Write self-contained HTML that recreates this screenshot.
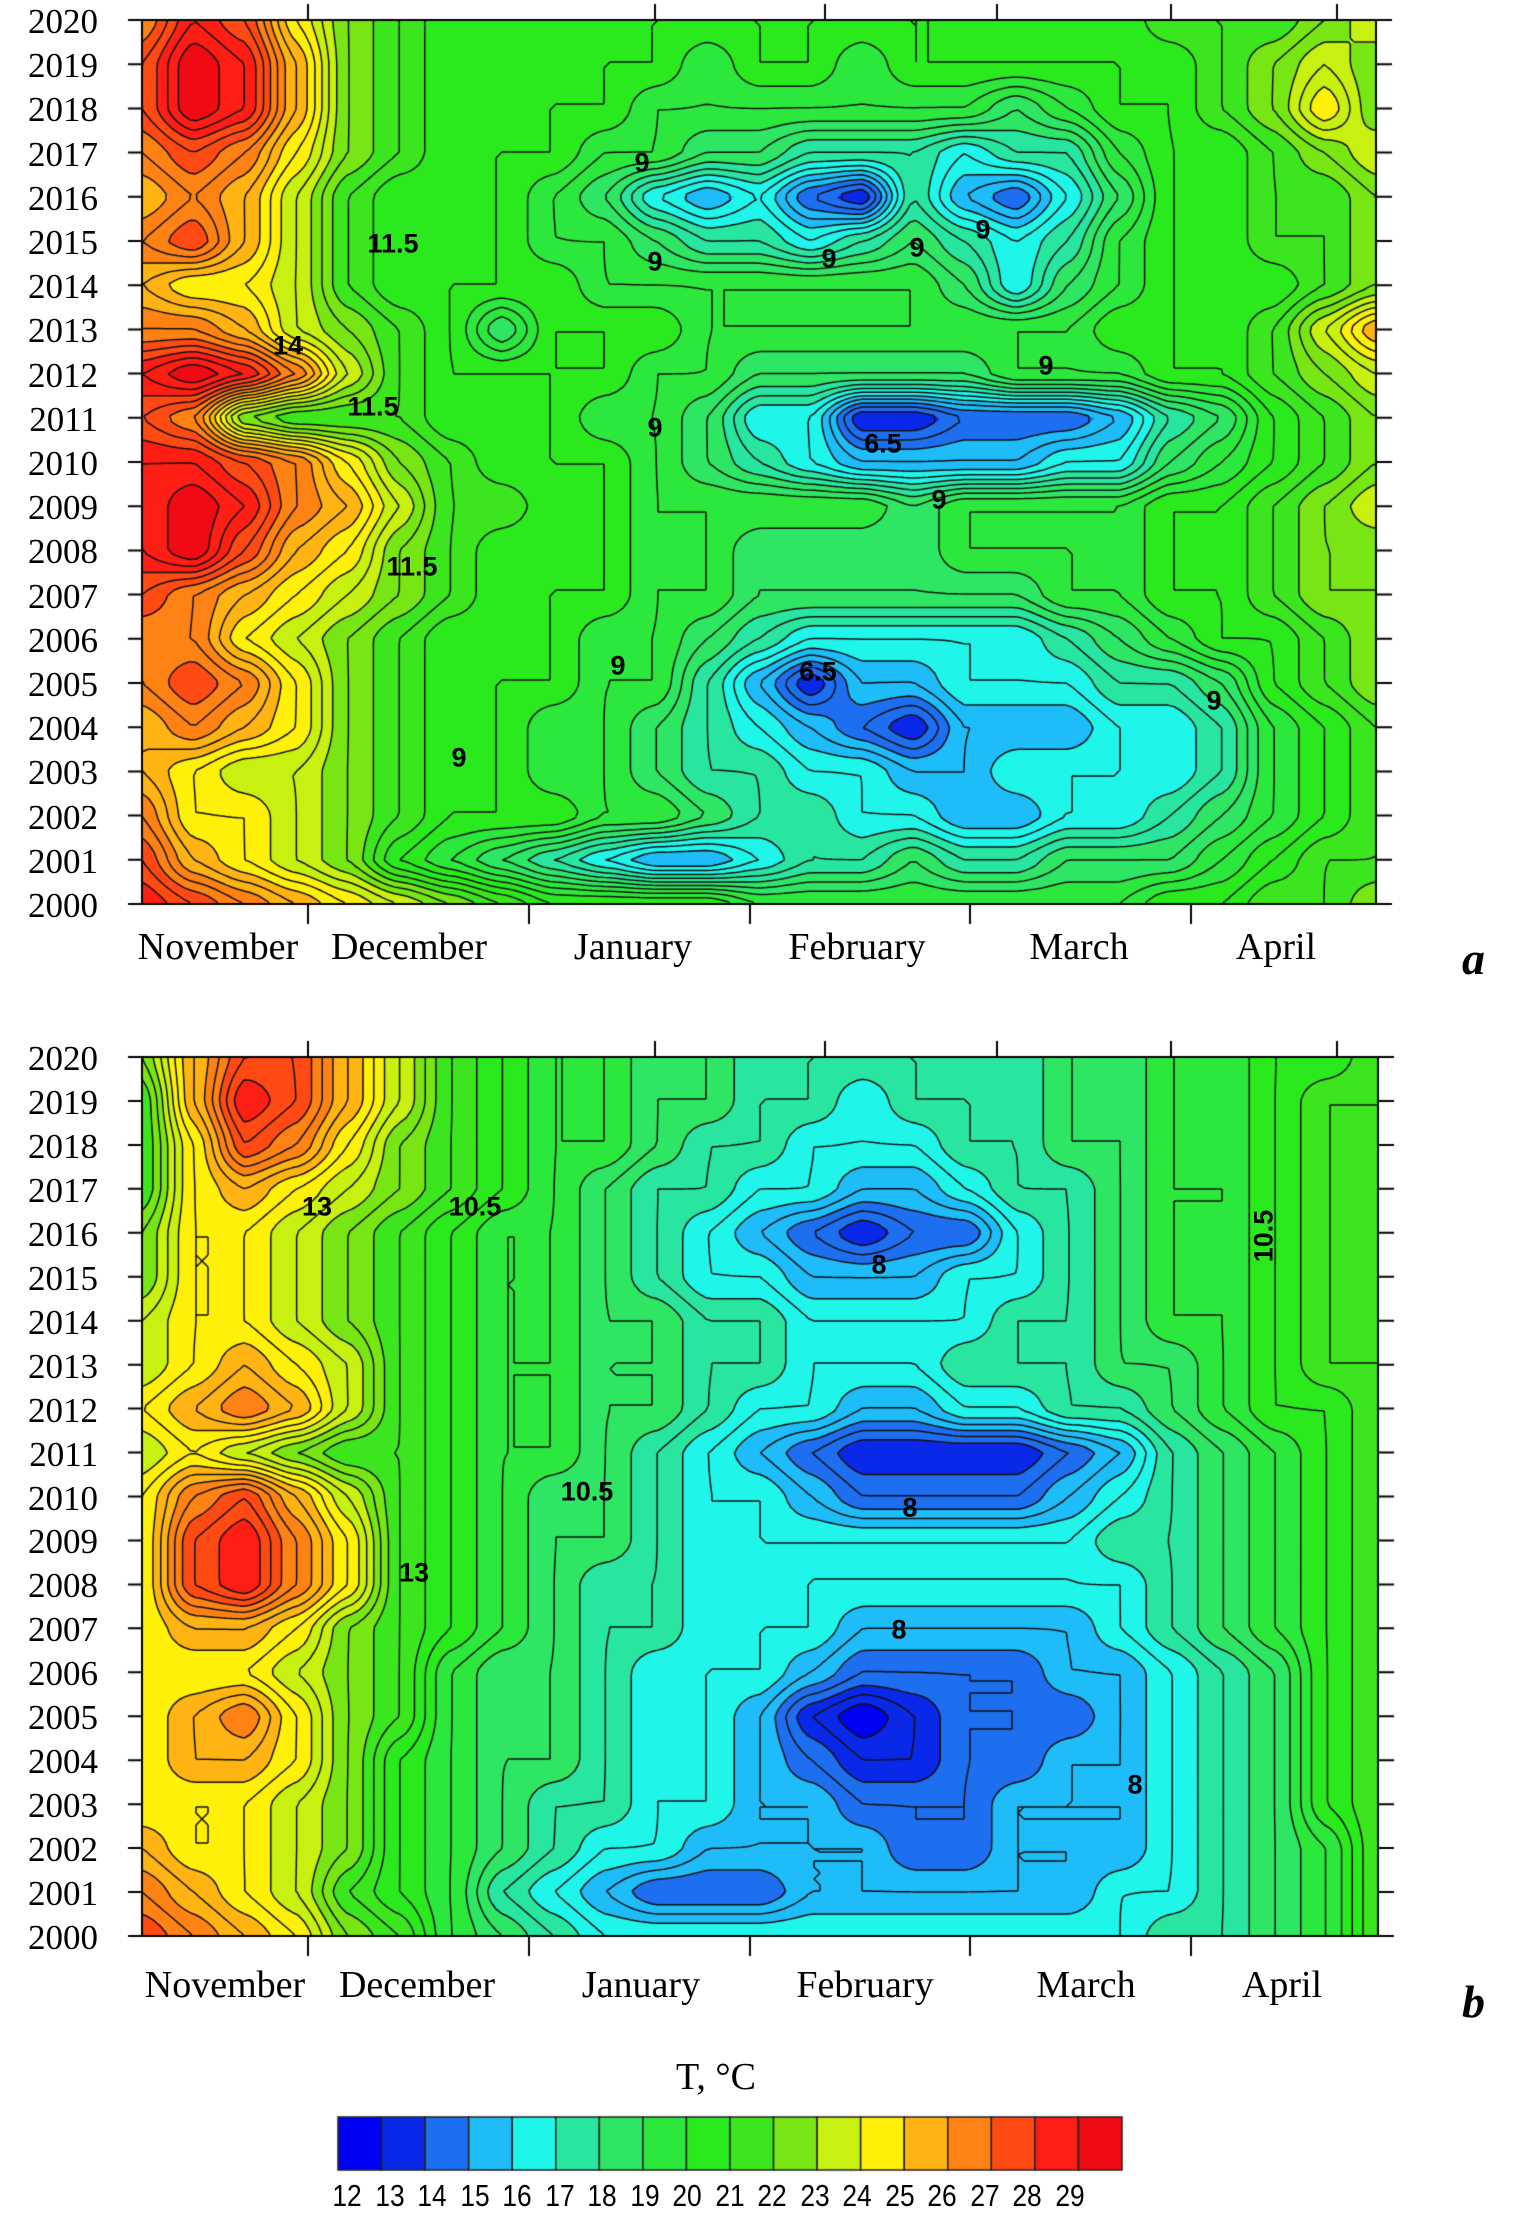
<!DOCTYPE html>
<html><head><meta charset="utf-8">
<style>
html,body{margin:0;padding:0;background:#fff;}
body{width:1513px;height:2216px;position:relative;overflow:hidden;font-family:"Liberation Serif",serif;}
canvas{position:absolute;left:0;top:0;}
.t{position:absolute;white-space:nowrap;color:#000;}
.yl{font-size:35px;width:90px;text-align:right;left:8px;line-height:1;}
.ml{font-size:38px;transform:translateX(-50%);line-height:1;}
.cl{font-family:"Liberation Sans",sans-serif;font-size:27px;font-weight:bold;transform:translate(-50%,-50%);line-height:1;}
.pl{font-size:46px;font-weight:bold;font-style:italic;}
.lg{font-family:"Liberation Sans",sans-serif;font-size:31px;transform:translateX(-50%) scaleX(0.85);line-height:1;}
</style></head>
<body>
<canvas id="cv" width="1513" height="2216"></canvas>
<div id="labels"></div>
<script>
const years=[2020,2019,2018,2017,2016,2015,2014,2013,2012,2011,2010,2009,2008,2007,2006,2005,2004,2003,2002,2001,2000];
const months=["November","December","January","February","March","April"];
const legendValues=[12,13,14,15,16,17,18,19,20,21,22,23,24,25,26,27,28,29];
const legendColors=["#0000f5","#0a28e8","#1e6ef0","#1ebcf8","#20f5ea","#28e6a0","#2ee664","#2de83c","#2aea1e","#3ce61e","#78e614","#c8f010","#fff00a","#ffb414","#ff8214","#ff4a14","#ff1e14","#f00a14"];
const panelA=[
[26,28,27,24,22,21,20,20,20,20,20,20,20,20,20,20,20,20,20,20,21,21,21,22,23],
[27,29,28,25,22,21,20,20,20,20,20,19,20,20,19,20,20,20,20,20,20,21,22,23,22],
[27,29,28,25,22,21,20,20,20,20,19,19,19,19,19,19,19,18,19,20,20,21,22,24,22],
[26,27,26,24,22,21,20,20,20,19,19,18,18,17,17,17,16,17,17,19,20,20,21,22,23],
[25,26,25,23,21,20,20,20,19,18,16,15,16,14,13,17,15,14,16,18,20,20,21,21,22],
[26,27,25,23,21,20,20,20,19,19,18,17,17,16,17,18,17,16,17,19,20,20,21,21,22],
[25,24,24,23,21,20,20,20,20,19,19,19,19,19,19,19,18,16,18,19,20,20,20,21,22],
[26,26,25,23,22,21,20,18,20,20,20,19,19,19,19,19,19,19,19,20,20,20,21,23,25],
[28,29,28,26,23,21,20,20,20,20,19,19,18,18,18,18,18,19,19,19,20,20,21,22,23],
[27,26,22,21,21,21,20,20,20,19,19,18,16,16,13,13,14,14,14,15,17,18,20,21,22],
[28,28,27,26,24,22,21,20,20,20,19,18,17,16,15,15,15,15,16,16,18,19,20,21,22],
[28,29,28,26,25,23,21,21,20,20,19,19,19,19,19,18,19,19,19,19,20,20,21,22,23],
[28,29,27,25,24,22,21,20,20,20,19,19,18,18,18,18,19,19,19,19,20,20,21,22,22],
[27,26,25,24,23,22,21,20,20,20,19,19,18,18,18,18,18,18,19,19,20,20,21,22,22],
[26,26,24,23,22,21,20,20,20,19,19,18,17,16,16,16,16,16,17,18,19,20,20,21,22],
[26,27,26,24,22,21,20,20,20,19,19,17,15,13,15,15,16,16,16,17,17,18,20,21,22],
[25,26,25,24,22,21,20,20,19,19,18,17,16,15,14,13,15,15,15,16,16,17,19,20,21],
[25,24,23,23,22,21,20,20,19,19,18,17,17,16,16,15,15,16,16,16,16,17,19,20,21],
[26,24,24,23,22,21,20,20,20,19,19,18,17,17,16,16,15,15,16,16,17,18,19,20,21],
[27,25,24,23,22,20,19,18,17,16,15,15,16,17,17,18,17,17,18,18,18,19,20,21,21],
[28,27,26,25,24,23,22,21,20,20,20,20,19,19,19,19,19,19,19,19,20,20,21,21,22]];
const panelB=[
[22,25,27,27,25,23,21,20,19,19,18,18,17,17,17,17,17,17,18,18,19,19,20,20,21],
[21,25,28,27,25,23,21,20,19,19,18,18,17,17,16,17,17,17,18,18,19,19,20,21,21],
[21,24,27,26,24,22,21,20,19,19,18,17,17,16,16,16,17,17,18,18,19,19,20,21,21],
[21,24,25,24,23,22,21,20,19,18,17,17,16,16,15,15,16,17,17,18,19,19,20,21,21],
[22,24,24,23,22,21,20,19,19,18,17,16,15,14,13,14,14,16,17,18,19,19,20,21,21],
[22,24,24,23,22,21,20,19,19,18,17,16,16,15,15,15,16,16,17,18,19,19,20,21,21],
[23,24,24,23,22,21,20,19,19,18,18,17,17,16,16,16,16,17,17,18,19,19,20,21,21],
[23,24,25,24,23,21,20,19,19,18,18,17,17,16,16,16,17,17,17,18,18,19,20,21,21],
[24,25,26,25,23,21,20,19,19,18,18,17,16,16,15,15,16,16,17,17,18,19,20,20,21],
[23,24,23,22,21,21,20,19,19,18,17,16,15,14,13,13,13,13,14,15,17,18,19,20,21],
[24,26,27,25,23,21,20,19,18,18,17,16,16,15,14,14,14,14,15,16,17,18,19,20,21],
[24,27,28,26,24,21,20,19,18,18,17,16,16,16,16,16,16,16,16,17,17,18,19,20,21],
[24,27,28,26,24,21,20,19,18,17,17,16,16,16,16,16,16,16,16,16,17,18,19,20,21],
[24,25,25,24,22,21,20,19,18,17,17,16,16,16,15,15,15,15,15,16,17,18,19,20,21],
[24,24,24,23,22,21,19,18,18,17,16,16,16,15,14,14,14,14,15,15,16,17,18,20,21],
[24,25,26,24,22,21,19,18,18,17,16,16,15,13,12,13,14,14,14,15,16,17,18,20,21],
[24,25,25,24,22,20,19,18,18,17,16,16,15,14,13,13,14,14,15,15,16,17,18,20,21],
[24,24,24,23,22,20,19,18,17,17,16,16,15,15,14,14,14,15,15,15,16,17,18,20,21],
[25,24,24,23,22,20,19,18,17,16,16,15,15,15,15,14,14,15,15,15,16,17,18,19,21],
[26,25,24,23,21,20,19,17,16,15,14,14,14,15,15,15,15,15,15,16,16,17,18,19,21],
[27,26,25,24,22,21,19,18,17,16,16,16,16,16,16,16,16,16,16,16,17,17,18,19,21]];

const cv=document.getElementById('cv');const ctx=cv.getContext('2d');
const L=document.getElementById('labels');
function hex(h){return [parseInt(h.substr(1,2),16),parseInt(h.substr(3,2),16),parseInt(h.substr(5,2),16)];}
const rgb=legendColors.map(hex);
function drawPanel(grid,x0,y0,x1,y1){
  const R=grid.length,C=grid[0].length,W=x1-x0,H=y1-y0;
  function val(px,py){const gx=px/W*(C-1),gy=py/H*(R-1);
    let i=Math.min(Math.floor(gx),C-2),j=Math.min(Math.floor(gy),R-2);const fx=gx-i,fy=gy-j;
    const a=grid[j][i],b=grid[j][i+1],c=grid[j+1][i],d=grid[j+1][i+1];
    const sx=fx*fx*(3-2*fx)*0.5+fx*0.5,sy=fy*fy*(3-2*fy)*0.5+fy*0.5;
    return (a*(1-sx)+b*sx)*(1-sy)+(c*(1-sx)+d*sx)*sy+0.5;}
  const img=ctx.createImageData(W,H);
  for(let py=0;py<H;py++)for(let px=0;px<W;px++){const v=val(px,py);
    let k=Math.floor(v)-legendValues[0];k=Math.max(0,Math.min(rgb.length-1,k));
    const o=(py*W+px)*4;img.data[o]=rgb[k][0];img.data[o+1]=rgb[k][1];img.data[o+2]=rgb[k][2];img.data[o+3]=255;}
  ctx.putImageData(img,x0,y0);
  const s=6,nx=Math.ceil(W/s),ny=Math.ceil(H/s),F=[];
  for(let j=0;j<=ny;j++){F.push([]);for(let i=0;i<=nx;i++)F[j].push(val(Math.min(i*s,W-1),Math.min(j*s,H-1)));}
  ctx.strokeStyle='#111';ctx.lineWidth=1.5;ctx.beginPath();
  for(let lev=12;lev<=29.6;lev+=0.5){
    for(let j=0;j<ny;j++)for(let i=0;i<nx;i++){
      const p=[[i,j,F[j][i]],[i+1,j,F[j][i+1]],[i+1,j+1,F[j+1][i+1]],[i,j+1,F[j+1][i]]];const pts=[];
      for(let e=0;e<4;e++){const A=p[e],B=p[(e+1)%4];
        if((A[2]<lev)!==(B[2]<lev)){const t=(lev-A[2])/(B[2]-A[2]);pts.push([A[0]+(B[0]-A[0])*t,A[1]+(B[1]-A[1])*t]);}}
      for(let k=0;k+1<pts.length;k+=2){ctx.moveTo(x0+Math.min(pts[k][0]*s,W),y0+Math.min(pts[k][1]*s,H));ctx.lineTo(x0+Math.min(pts[k+1][0]*s,W),y0+Math.min(pts[k+1][1]*s,H));}
    }}
  ctx.stroke();
  ctx.strokeStyle='#000';ctx.lineWidth=2;ctx.strokeRect(x0,y0,W,H);
  ctx.beginPath();
  for(let j=0;j<R;j++){const y=y0+j*H/(R-1);ctx.moveTo(x0-14,y);ctx.lineTo(x0,y);ctx.moveTo(x1,y);ctx.lineTo(x1+16,y);
    const d=document.createElement('div');d.className='t yl';d.textContent=years[j];d.style.top=(y-16)+'px';
    
    
    L.appendChild(d);}
  [308,529,750,970,1191].forEach(x=>{ctx.moveTo(x,y1);ctx.lineTo(x,y1+20);});
  [308,655,825,997,1171,1337].forEach(x=>{ctx.moveTo(x,y0);ctx.lineTo(x,y0-16);});
  ctx.stroke();
}
drawPanel(panelA,142,20,1376,904);
drawPanel(panelB,142,1057,1378,1936);
function addText(cls,txt,x,y,name,extra){const d=document.createElement('div');d.className='t '+cls;d.textContent=txt;d.style.left=x+'px';d.style.top=y+'px';if(extra)d.style.cssText+=extra;
  
  
  L.appendChild(d);}
const mxA=[218,409,633,857,1079,1276],mxB=[225,417,641,865,1086,1282];
months.forEach((m,i)=>{addText('ml',m,mxA[i],928,'x-tick-label');addText('ml',m,mxB[i],1966,'x-tick-label');});
addText('pl','a',1462,932,'panel-label-a');addText('pl','b',1462,1975,'panel-label-b');
const clA=[["9",642,163],["11.5",393,244],["14",288,346],["11.5",373,407],["9",655,262],["9",829,259],["9",917,248],["9",983,230],["9",1046,366],["9",655,428],["6.5",883,444],["9",939,500],["11.5",412,567],["9",618,666],["6.5",818,672],["9",1214,701],["9",459,758]];
const clB=[["13",317,1207],["10.5",475,1207],["8",879,1265],["10.5",1264,1236],["10.5",587,1492],["8",910,1508],["13",414,1573],["8",899,1630],["8",1135,1785]];
clA.concat(clB).forEach(c=>addText('cl',c[0],c[1],c[2],'contour-label',c[0]==="10.5"&&c[1]===1264?'transform:translate(-50%,-50%) rotate(-90deg);':''));
addText('','T, °C',716,2058,'legend-title','font-size:38px;transform:translateX(-50%);line-height:1;');
const lx0=338,lx1=1122,ly0=2117,ly1=2170,sw=(lx1-lx0)/legendValues.length;
legendValues.forEach((v,i)=>{ctx.fillStyle=legendColors[i];ctx.fillRect(lx0+i*sw,ly0,sw,ly1-ly0);
  ctx.strokeStyle='#222';ctx.lineWidth=1.5;ctx.strokeRect(lx0+i*sw,ly0,sw,ly1-ly0);
  addText('lg',String(v),347+i*42.5,2180,'legend-tick-label');});
</script>
</body></html>
